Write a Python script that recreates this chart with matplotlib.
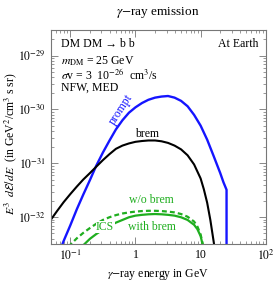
import matplotlib
matplotlib.use("Agg")
import matplotlib.pyplot as plt
import numpy as np
from matplotlib.ticker import LogLocator, NullFormatter

plt.rcParams['font.family'] = ['Liberation Serif', 'DejaVu Serif']
plt.rcParams['mathtext.fontset'] = 'stix'

# prompt gamma rays (E in GeV, log10 of E^3 dE/dE)
E_prompt = [0.071, 0.079, 0.1, 0.126, 0.158, 0.2, 0.251, 0.316, 0.398, 0.501, 0.631, 0.794, 1.0,
            1.26, 1.58, 2.0, 2.51, 3.16, 3.98, 5.01, 6.31, 7.94, 10.0, 12.6, 15.8, 20.0, 22.4, 25.0, 25.0]
logF_prompt = [-32.59, -32.44, -32.15, -31.85, -31.58, -31.31, -31.04, -30.80, -30.58, -30.37, -30.20,
               -30.06, -29.96, -29.88, -29.82, -29.78, -29.76, -29.75, -29.78, -29.84, -29.94, -30.10,
               -30.30, -30.56, -30.86, -31.18, -31.35, -31.49, -33.0]

# bremsstrahlung
E_brem = [0.05, 0.063, 0.079, 0.1, 0.126, 0.158, 0.2, 0.251, 0.316, 0.398, 0.501, 0.631, 0.794, 1.0,
          1.26, 1.58, 2.0, 2.51, 3.16, 3.98, 5.01, 6.31, 7.94, 10.0, 11.2, 12.6, 14.1, 15.8, 17.0]
logF_brem = [-32.05, -31.88, -31.72, -31.57, -31.43, -31.30, -31.18, -31.06, -30.94, -30.83, -30.73,
             -30.67, -30.63, -30.60, -30.585, -30.575, -30.575, -30.59, -30.62, -30.67, -30.74, -30.85,
             -31.02, -31.28, -31.48, -31.73, -32.05, -32.44, -32.7]

# ICS, with brem losses
E_ics = [0.151, 0.158, 0.2, 0.251, 0.316, 0.398, 0.501, 0.631, 0.794, 1.0, 1.26, 1.58, 2.0, 2.51,
         3.16, 3.98, 5.01, 6.31, 7.94, 8.91, 10.0, 10.7, 11.2]
logF_ics = [-32.56, -32.52, -32.40, -32.31, -32.23, -32.16, -32.10, -32.05, -32.00, -31.97, -31.955,
            -31.945, -31.94, -31.945, -31.955, -31.97, -32.00, -32.05, -32.14, -32.22, -32.35, -32.50, -32.6]

# ICS, without brem losses
E_ics_nb = [0.095, 0.1, 0.126, 0.158, 0.2, 0.251, 0.316, 0.398, 0.501, 0.631, 0.794, 1.0, 1.26, 1.58,
            2.0, 2.51, 3.16, 3.98, 5.01, 6.31, 7.94, 8.91, 10.0, 10.7, 11.0]
logF_ics_nb = [-32.55, -32.51, -32.39, -32.29, -32.20, -32.12, -32.05, -32.00, -31.96, -31.93, -31.91,
               -31.895, -31.885, -31.88, -31.88, -31.885, -31.895, -31.91, -31.94, -31.99, -32.08,
               -32.17, -32.32, -32.48, -32.55]

x_ticks = [0.1, 1, 10, 100]
x_ticklabels = [r'$10^{-1}$', '1', '10', r'$10^{2}$']
y_ticks = [1e-32, 1e-31, 1e-30, 1e-29]
y_ticklabels = [r'$10^{-32}$', r'$10^{-31}$', r'$10^{-30}$', r'$10^{-29}$']

blue = '#1515ff'
green = '#1fae1f'

fig = plt.figure(figsize=(2.74, 2.82), dpi=100)
ax = fig.add_axes([0.185, 0.135, 0.785, 0.759])

ax.plot(E_prompt, 10.0**np.array(logF_prompt), color=blue, lw=1.7)
ax.plot(E_brem, 10.0**np.array(logF_brem), color='black', lw=1.5)
ax.plot(E_ics, 10.0**np.array(logF_ics), color=green, lw=1.6)
ax.plot(E_ics_nb, 10.0**np.array(logF_ics_nb), color=green, lw=1.6, ls=(0, (2.2, 1.4)))

ax.set_xscale('log')
ax.set_yscale('log')
ax.set_xlim(0.05, 100)
ax.set_ylim(3.2e-33, 3e-29)

ax.set_xticks(x_ticks)
ax.set_xticklabels(x_ticklabels)
ax.set_yticks(y_ticks)
ax.set_yticklabels(y_ticklabels)
ax.xaxis.set_minor_locator(LogLocator(base=10, subs=np.arange(2, 10)))
ax.yaxis.set_minor_locator(LogLocator(base=10, subs=np.arange(2, 10)))
ax.xaxis.set_minor_formatter(NullFormatter())
ax.yaxis.set_minor_formatter(NullFormatter())

for s in ax.spines.values():
    s.set_color('#777777')
    s.set_linewidth(0.8)
ax.tick_params(which='both', direction='in', top=True, right=True, color='#888888', labelsize=8.5)
ax.tick_params(which='major', length=5, width=0.7)
ax.tick_params(which='minor', length=2.5, width=0.6)

fig.text(0.577, 0.957, r'$\gamma$$-$ray emission', fontsize=9.5, ha='center', va='center')
fig.text(0.577, 0.028, r'$\gamma$$-$ray energy in GeV', fontsize=8.5, ha='center', va='center')
fig.text(0.038, 0.49, r'$E^3\ \ d\mathcal{E}/dE$  (in GeV$^2$/cm$^3$ s sr)', fontsize=8.5,
         rotation=90, ha='center', va='center')

tx = dict(transform=ax.transAxes, fontsize=8.5, va='center')
ax.text(0.05, 0.935, 'DM DM \u2192 b b', **tx)
ax.text(0.05, 0.855, r'$m_{\rm DM}$ = 25 GeV', **tx)
ax.text(0.05, 0.79, r'$\sigma$v = 3  10$^{-26}$  cm$^3$/s', **tx)
ax.text(0.05, 0.73, 'NFW, MED', **tx)
ax.text(0.965, 0.935, 'At Earth', ha='right', **tx)

ax.text(0.327, 0.626, 'prompt', transform=ax.transAxes, color=blue, fontsize=8.5,
        rotation=57, ha='center', va='center')
ax.text(0.448, 0.514, 'brem', transform=ax.transAxes, fontsize=8.5, ha='center', va='center')
ax.text(0.467, 0.206, 'w/o brem', transform=ax.transAxes, color=green, fontsize=8.5,
        ha='center', va='center')
ax.text(0.253, 0.079, 'ICS', transform=ax.transAxes, color=green, fontsize=8.5, ha='center',
        va='center', bbox=dict(facecolor='white', edgecolor='none', pad=0.3))
ax.text(0.471, 0.079, 'with brem', transform=ax.transAxes, color=green, fontsize=8.5,
        ha='center', va='center')

fig.savefig('out.png', dpi=100)
